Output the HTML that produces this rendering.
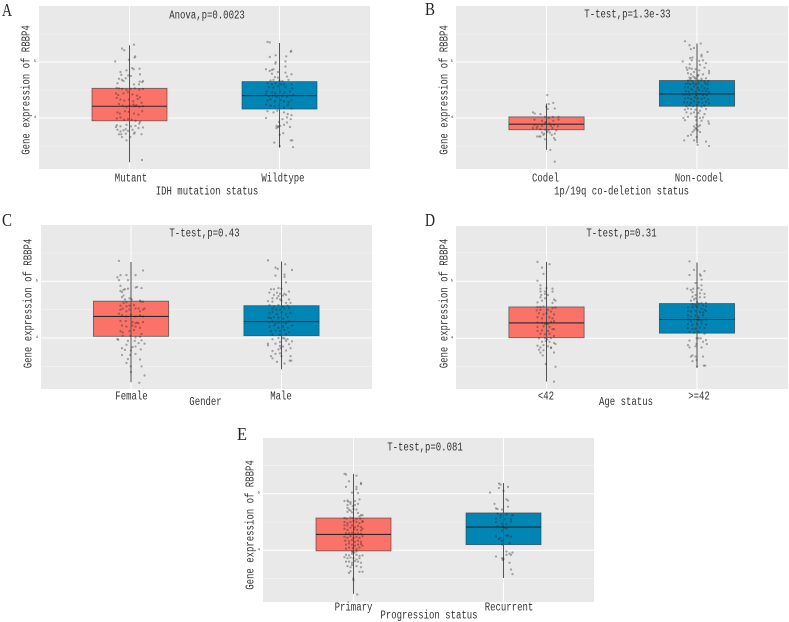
<!DOCTYPE html>
<html>
<head>
<meta charset="utf-8">
<title>RBBP4 expression box plots</title>
<style>
html,body{margin:0;padding:0;background:#fff;}
svg{display:block;filter:blur(0.3px);}
text{font-family:"Liberation Mono","Noto Serif CJK SC",monospace;fill:#333;}
.letter{font-family:"Liberation Serif","Noto Serif CJK SC",serif;fill:#222;}
</style>
</head>
<body>
<svg id="figure" width="789" height="622" viewBox="0 0 789 622" xmlns="http://www.w3.org/2000/svg"></svg>
<script>
// Shared value axis
const yTickValues = [4, 5];
const yTickLabels = ["4", "5"];
const yMinorValues = [3.5, 4.5, 5.5];
const yAxisLabel = "Gene expression of RBBP4";

// Panel text
const panelLetters = ["A", "B", "C", "D", "E"];
const panelTitles = ["Anova,p=0.0023", "T-test,p=1.3e-33", "T-test,p=0.43", "T-test,p=0.31", "T-test,p=0.081"];
const panelXLabels = ["IDH mutation status", "1p/19q co-deletion status", "Gender", "Age status", "Progression status"];

// Categories
const categoriesA = ["Mutant", "Wildtype"];
const categoriesB = ["Codel", "Non-codel"];
const categoriesC = ["Female", "Male"];
const categoriesD = ["<42", ">=42"];
const categoriesE = ["Primary", "Recurrent"];

// Box statistics: low whisker, q1, median, q3, high whisker
const statsA = [[3.21, 3.95, 4.21, 4.53, 5.30], [3.47, 4.16, 4.40, 4.65, 5.34]];
const statsB = [[3.43, 3.79, 3.89, 4.02, 4.26], [3.55, 4.21, 4.43, 4.67, 5.33]];
const statsC = [[3.22, 4.03, 4.38, 4.65, 5.34], [3.45, 4.04, 4.29, 4.57, 5.35]];
const statsD = [[3.24, 4.01, 4.27, 4.55, 5.34], [3.49, 4.09, 4.33, 4.61, 5.33]];
const statsE = [[3.23, 3.99, 4.28, 4.57, 5.35], [3.51, 4.10, 4.41, 4.66, 5.19]];

// Jittered samples as flat pairs: jitter (hundredths of a category), value
const pointsA1 = [3,5.31,-3.5,5.21,-5,5.24,3.8,5.10,3.4,5.08,-.4,5.04,-9.5,5.01,1.8,4.89,-6,4.82,-2,4.85,6.7,4.88,2.8,4.87,-5.5,4.77,7,4.78,-.8,4.76,1,4.75,-7,4.70,-5,4.68,-4,4.66,-2.5,4.71,8.5,4.64,6.3,4.60,9,4.66,-8,4.62,6.8,4.65,3,4.60,-8.5,4.54,-7,4.53,-5,4.52,-2,4.50,.8,4.52,3.5,4.53,6.5,4.51,9,4.52,-9,4.44,-7.5,4.41,-4,4.44,-1,4.46,2,4.42,5,4.40,7,4.37,-8.5,4.36,-6,4.33,-3.5,4.31,-.5,4.33,2.5,4.30,5.5,4.34,8,4.27,-7,4.25,-4.5,4.22,-2,4.20,0,4.22,2.6,4.24,3.5,4.21,4.6,4.23,6.5,4.20,9,4.21,-8,4.10,-6.5,4.08,-3,4.12,-.5,4.11,3,4.08,6,4.06,8.5,4.12,-8.5,3.99,-6,4.01,-3.5,3.97,-1,3.98,1.5,3.97,4,3.95,7,3.93,-8.5,3.87,-9,3.84,-6,3.85,-2,3.88,1,3.85,4,3.86,6.5,3.90,9,3.83,-8,3.79,-6,3.76,-4,3.78,-2.5,3.80,-1,3.77,2,3.79,3.5,3.74,6,3.82,-7,3.71,-5.5,3.71,-2.5,3.72,.6,3.66,8,3.71,-5,3.66,3,3.72,-2,3.60,8.3,3.25];
const pointsA2 = [-8,5.36,-6.5,5.35,7.5,5.18,7.8,5.20,-2.5,5.12,-6.5,5.09,4.5,5.10,-2.5,5.00,4,5.01,-2.8,4.97,-9,4.87,-5,4.86,-6.5,4.84,-4,4.87,4,4.92,-1,4.82,-5,4.79,4,4.81,8,4.78,5,4.74,-3,4.73,-1,4.72,-4,4.68,-6,4.67,0,4.67,2,4.66,6,4.68,-8,4.62,-5,4.60,-2.5,4.62,1,4.60,3,4.60,8,4.60,-7,4.55,-4,4.54,-1,4.57,4,4.55,8.5,4.53,-8.5,4.47,-5,4.46,-3,4.44,.5,4.47,3.5,4.46,7,4.47,-9,4.42,-7,4.39,-4.5,4.40,-2,4.38,2,4.40,5,4.38,9,4.41,-8,4.31,-6,4.33,-3,4.30,1,4.32,3,4.30,6,4.28,8,4.32,-9,4.24,-6,4.22,-3.5,4.21,-.5,4.23,3,4.19,5.5,4.23,8,4.17,-8,4.12,-4,4.10,-1.5,4.13,3,4.10,5.5,4.07,8,4.05,-9,4.00,2,3.98,5,4.01,7.5,3.98,-.3,3.93,3,3.88,5,3.92,-2,3.86,-.5,3.85,.5,3.86,-1,3.84,-2,3.82,7,3.84,2.5,3.73,.2,3.70,-3.5,3.56,.2,3.50,7.5,3.60,8.5,3.60,9,3.48];
const pointsB1 = [.5,4.41,1.5,4.25,4.5,4.27,-.2,4.20,-9,4.10,-7.8,4.08,.9,4.16,5.5,4.17,-4,4.07,-1,4.02,1.5,4.00,8,4.02,4.2,4.02,-8,3.97,-3,3.95,-.3,3.93,-1,3.91,2,3.90,4.5,3.95,8,3.97,-8,3.88,-6,3.85,-3,3.86,3,3.86,5,3.88,7.5,3.85,-9,3.82,-6.5,3.82,-4,3.80,-.8,3.79,1.2,3.78,4,3.82,6.5,3.78,-3,3.74,-1.5,3.72,.5,3.75,2.2,3.74,3.5,3.70,-4,3.67,-2,3.70,5.5,3.72,-6.2,3.67,-4.8,3.67,5,3.64,5.8,3.61,-1,3.62,2.5,3.43,5.5,3.22];
const pointsB2 = [-8,5.37,-5,5.30,-4,5.23,2.5,5.33,-2,5.25,7,5.18,3,5.13,-3,5.08,3,5.10,-4.5,5.07,-9.5,5.01,-3.5,5.03,1.5,5.02,4,5.03,6,4.98,2,4.95,-4.8,4.96,-7,4.90,-6.5,4.86,-5,4.89,-3.5,4.88,-1,4.87,1.5,4.85,5,4.90,8,4.84,-6,4.80,-4,4.78,-2,4.82,1,4.77,4,4.78,8,4.80,-5,4.72,-4,4.71,-2.5,4.74,-1.5,4.72,.5,4.75,3,4.70,6,4.71,-6,4.67,-4.5,4.68,-3,4.66,-1,4.70,1,4.67,3,4.67,5,4.66,7.5,4.66,-7.5,4.61,-6,4.62,-4.5,4.60,-2.5,4.62,-1,4.60,1,4.62,3,4.58,5.5,4.62,7,4.60,-8,4.55,-6,4.55,-4,4.52,-2,4.56,.5,4.54,3,4.55,5,4.53,7,4.52,-7.5,4.48,-5.5,4.47,-3,4.50,-1,4.47,1.5,4.50,3.5,4.48,6,4.48,8,4.46,-9,4.42,-7,4.42,-5,4.41,-3,4.43,-.5,4.41,2,4.43,4,4.41,6.5,4.41,-8,4.35,-6,4.36,-4,4.34,-1.5,4.37,.5,4.35,3,4.34,5,4.36,7.5,4.33,-8.5,4.28,-6.5,4.28,-4,4.27,-2,4.30,1,4.28,3.5,4.27,6,4.29,8,4.26,-7,4.21,-5,4.23,-2.5,4.21,0,4.23,3,4.20,5,4.22,-8,4.15,-6,4.17,-4,4.16,-1,4.15,2,4.13,6,4.16,-7,4.10,-4,4.08,-2,4.10,1,4.09,5,4.07,-9,4.00,-6,4.02,-1,4.02,2,4.00,4,4.01,-8,3.96,-.5,3.96,3,3.95,7.5,3.94,-.3,3.88,8,3.90,-2,3.85,-1,3.82,1,3.85,2,3.87,-.5,3.80,-2,3.78,.5,3.78,-3,3.75,2,3.75,-6,3.68,-4,3.70,-.2,3.66,-8.5,3.60,-2,3.60,6,3.58,.4,3.52,8,3.50];
const pointsC1 = [-8,5.36,8,5.19,-7,5.11,-3,5.11,3,5.11,-8,5.02,-2,5.02,-9,5.07,-7,4.92,-5,4.85,-4,4.86,-2,4.87,3,4.89,4,4.90,7,4.88,-7,4.83,-6,4.81,-5,4.75,-6,4.72,-4,4.68,-1,4.70,-3,4.63,-5,4.62,.5,4.68,6,4.66,6.5,4.64,8,4.64,-7,4.57,-3,4.56,-1,4.57,2,4.58,5,4.52,-7,4.50,-5.5,4.52,-3,4.47,-1,4.50,3,4.52,6,4.47,8,4.50,9,4.52,-8,4.43,-6,4.40,-3,4.38,0,4.41,3,4.38,6,4.40,8,4.38,-7,4.30,-3.5,4.30,1,4.28,3,4.26,4,4.27,5,4.26,8,4.28,-6,4.22,-3,4.20,1,4.22,3,4.20,6,4.18,-7,4.12,-5.5,4.10,-1,4.12,2,4.14,7,4.07,-5.5,4.04,-.4,4.04,3,4.01,6,4.02,-9,3.98,-8.5,3.97,-2,3.95,2.5,3.95,7,3.96,9,3.90,-3,3.88,3,3.85,5,3.91,1,3.84,-6,3.82,-4,3.79,0,3.78,6.5,3.80,-6,3.70,-.5,3.70,3,3.72,-2,3.63,6,3.62,-3,3.56,-.2,3.50,7,3.50,0,3.40,9,3.34,5.5,3.21];
const pointsC2 = [-9,5.37,-4,5.24,-2.5,5.22,2.5,5.30,7,5.20,2,5.12,2,5.08,-4,5.10,3,4.98,-2,4.88,-7,4.86,-5,4.86,0,4.87,-8,4.80,-3,4.80,-1,4.78,2,4.78,5,4.82,-5,4.76,-2,4.74,1,4.75,3,4.76,-6,4.70,-3,4.70,-1,4.68,5,4.68,-9,4.65,-6,4.64,0,4.66,3,4.62,6,4.62,-8,4.58,-5,4.56,-2,4.58,1,4.55,4,4.57,-6,4.52,-3.5,4.50,-1,4.50,2,4.52,5,4.53,-8,4.44,-6,4.46,-3,4.42,0,4.45,3,4.42,6,4.44,-8.5,4.36,-7,4.35,-5,4.37,-2,4.36,1,4.34,4,4.37,-8,4.28,-6,4.29,-4,4.25,-2,4.27,1,4.28,3,4.26,5,4.29,-8,4.20,-5,4.22,-2,4.18,1,4.20,4,4.18,7,4.22,-7,4.12,-4,4.13,-1,4.12,2,4.14,5,4.10,-6,4.06,-1,4.06,3,4.07,-6,3.98,-2,4.00,1,4.00,2,3.99,4,3.98,-1,3.93,3,3.95,7,3.94,-9,3.90,-9,3.87,-4,3.90,-1,3.86,5,3.89,-.5,3.82,1,3.85,-6,3.77,-2,3.80,3,3.78,-4,3.72,-1,3.73,6,3.82,-7,3.68,6,3.68,-6,3.64,5.5,3.60,6.5,3.60,-3,3.58,0,3.68,2,3.55];
const pointsD1 = [-6,5.34,2,5.30,-3,5.24,-2,5.13,-6,5.01,-4,4.93,-4,4.87,0,4.88,-4,4.82,-1,4.82,4,4.87,-3.5,4.76,-1,4.78,1,4.76,4,4.82,-4,4.72,-1,4.70,5,4.68,6,4.66,-6,4.63,-3,4.66,4,4.62,-6,4.55,-4,4.55,-2,4.56,4,4.53,6,4.54,-6.5,4.49,-4,4.50,1,4.50,3,4.47,-5,4.44,-2,4.42,0,4.44,5,4.42,-6,4.37,-3,4.35,2,4.37,4,4.35,-6,4.28,-3,4.27,-1,4.25,0,4.27,1,4.25,3,4.29,5,4.30,-6,4.20,-2,4.21,2,4.20,4,4.16,-6,4.13,-3,4.14,1,4.13,5,4.16,-4,4.08,-1,4.07,2,4.08,5,4.04,-5,4.00,-1,4.00,.5,3.98,3,4.00,-3,3.94,-.5,3.95,2,3.94,5,3.92,-6,3.87,-4,3.84,-2,3.88,1,3.86,3,3.84,6,3.90,-5,3.80,-2,3.79,3,3.83,-4,3.75,-2.5,3.70,5,3.75,-.5,3.55,6,3.50,5,3.24];
const pointsD2 = [-5,5.35,-2,5.20,5,5.18,-5,5.11,2,5.12,2.5,5.10,3,5.03,-1,4.97,3,4.93,1,4.88,-6.5,4.87,-4,4.85,-2.5,4.87,3,4.85,-3,4.81,-1,4.76,2,4.79,5,4.78,-3,4.73,-1,4.70,2,4.72,5,4.72,-4,4.66,-2,4.68,0,4.64,3,4.62,6,4.62,-3,4.60,-1,4.58,1,4.61,4,4.58,6,4.56,-6,4.54,-3,4.55,0,4.55,3,4.52,5,4.50,-6,4.48,-4,4.47,-1,4.48,2,4.46,4,4.45,6,4.48,-6,4.40,-4,4.38,-1,4.40,1,4.37,4,4.40,-6,4.33,-4,4.30,-2,4.33,1,4.32,3,4.31,6,4.33,-6,4.25,-3,4.24,0,4.25,3,4.26,6,4.24,-6,4.18,-3,4.17,-1,4.17,2,4.19,5,4.18,-5,4.11,-2,4.10,1,4.11,5,4.08,-.3,4.00,1,4.00,2.5,4.00,6,3.97,-5,3.96,-.4,3.90,4,3.94,6.5,3.90,-6,3.88,-5,3.84,-1,3.86,3,3.84,-3,3.70,4,3.68,-4,3.68,-1,3.68,4.5,3.52,5.5,3.52,-.3,3.62,0,3.50,-3,3.60];
const pointsE1 = [-6,5.35,-5,5.34,2,5.32,-3,5.22,5,5.19,5,5.17,-5,5.12,2,5.12,2,5.08,-1,5.02,3,5.01,4,4.90,-6,4.87,-4,4.88,-3.5,4.86,-2,4.85,1,4.87,-4,4.80,-2,4.82,-.5,4.78,1,4.80,3,4.82,-4,4.75,-3,4.72,-2,4.70,0,4.73,2,4.72,-4,4.68,-1,4.67,3,4.66,5,4.62,4,4.60,6,4.62,-6,4.57,-4.5,4.56,-2,4.58,-.5,4.57,2,4.55,4.5,4.56,6,4.52,-6,4.50,-4,4.48,-2,4.50,0,4.52,2,4.50,4,4.48,6,4.50,-6,4.44,-4,4.44,-1,4.44,1,4.41,3,4.43,5,4.41,-6,4.38,-4,4.36,-2,4.40,.5,4.37,2.5,4.36,5,4.35,6,4.38,-5,4.30,-3,4.30,-1,4.31,1,4.29,3,4.30,5,4.29,-6,4.24,-4,4.22,-2,4.25,0,4.22,2,4.24,4,4.22,6,4.25,-5.5,4.17,-3,4.16,-1,4.18,1,4.15,3,4.17,5,4.15,-5,4.10,-3,4.12,-1,4.10,1,4.08,3,4.10,5,4.11,6,4.08,-5,4.03,-3,4.05,-.5,4.04,2,4.02,4,4.05,-1,3.98,-.5,3.97,.5,3.96,2,3.98,-5,3.92,-3,3.91,-1,3.94,2,3.92,4,3.90,6,3.91,-6,3.88,-4,3.86,-2,3.87,0,3.86,2,3.84,4,3.86,-5,3.80,-3,3.80,-1,3.78,1,3.81,3,3.80,5,3.78,-4,3.72,-1,3.74,2,3.72,5,3.70,-2,3.70,-3,3.60,-2,3.63,4,3.62,6,3.62,-.2,3.50,0,3.47,2.5,3.22];
const pointsE2 = [-3,5.18,-2,5.16,-3,5.10,3,5.12,0,5.05,-9,5.02,2,4.90,3,4.88,-6,4.82,3,4.77,-5,4.74,-4,4.73,-1,4.72,-4,4.65,-2,4.62,2,4.64,6,4.62,-5,4.56,-2,4.58,1,4.55,5,4.55,-5,4.50,-1,4.47,2,4.46,5,4.51,-4,4.42,-.5,4.42,.5,4.40,2,4.38,-1,4.35,-5,4.25,-2,4.22,2,4.26,3,4.26,5,4.24,-3,4.20,-1,4.17,4,4.13,-1,4.10,2,3.98,4,3.94,-5,3.89,-1,3.86,0,3.85,-.5,3.83,2,3.92,5,3.92,6,3.96,4,3.78,5,3.66,6,3.58];

const panelData = [
  [categoriesA, statsA, pointsA1, pointsA2],
  [categoriesB, statsB, pointsB1, pointsB2],
  [categoriesC, statsC, pointsC1, pointsC2],
  [categoriesD, statsD, pointsD1, pointsD2],
  [categoriesE, statsE, pointsE1, pointsE2]
];

const boxColors = ["#fb7268", "#0085b5"];
const CHAR_W = 5.4;
const NS = "http://www.w3.org/2000/svg";
const root = document.getElementById("figure");

// Layout only: plot rectangle, y position of value 4 / value 5, label anchors
const layouts = [
  {l:39,r:370,t:6,b:169,y4:118,y5:62,c1:129.5,c2:279.5,letter:[2,16],title:[207,16],tick:[[131,179],[283,179]],xt:[207,192],yt:[27,90]},
  {l:456,r:788,t:6,b:169,y4:118,y5:62,c1:546.5,c2:697,letter:[425,15],title:[627.5,15],tick:[[545.5,179],[699,179]],xt:[621.5,192],yt:[445,90]},
  {l:41,r:372,t:225,b:389,y4:338,y5:281.3,c1:131,c2:281.5,letter:[2,226],title:[204.5,234],tick:[[131.5,397],[281,397]],xt:[205.5,402.5],yt:[29,303.5]},
  {l:456,r:788,t:226,b:389,y4:338.3,y5:281.3,c1:546.5,c2:697,letter:[425,226],title:[621.5,234],tick:[[546,397],[699,397]],xt:[626,402.5],yt:[445,303.5]},
  {l:263,r:594,t:438,b:602,y4:550.3,y5:493.7,c1:353.5,c2:503.5,letter:[237,440],title:[425,448],tick:[[353.5,608],[509,608]],xt:[429,616],yt:[251,525]}
];

function el(tag, attrs, parent) {
  const node = document.createElementNS(NS, tag);
  for (const k in attrs) node.setAttribute(k, attrs[k]);
  parent.appendChild(node);
  return node;
}

function label(text, x, y, parent, rotate) {
  const t = el("text", {x: x, y: y, "font-size": 11.5, "text-anchor": "middle", "dominant-baseline": "central",
    textLength: text.length * CHAR_W, lengthAdjust: "spacingAndGlyphs"}, parent);
  if (rotate) t.setAttribute("transform", "rotate(-90 " + x + " " + y + ")");
  t.textContent = text;
  return t;
}

layouts.forEach(function (L, p) {
  const cats = panelData[p][0], stats = panelData[p][1];
  const unit = L.y4 - L.y5;
  const yScale = function (v) { return L.y4 - (v - yTickValues[0]) * unit; };
  const step = L.c2 - L.c1;
  const xScale = function (i, j) { return (i === 0 ? L.c1 : L.c2) + (j || 0) / 100 * step; };

  const g = el("g", {}, root);
  
  

  const letter = el("text", {x: L.letter[0], y: L.letter[1], "font-size": 18, "class": "letter", textLength: 10, lengthAdjust: "spacingAndGlyphs"}, g);
  
  
  letter.textContent = panelLetters[p];

  const bg = el("rect", {x: L.l, y: L.t, width: L.r - L.l, height: L.b - L.t, fill: "#e9e9e9"}, g);
  
  

  yMinorValues.forEach(function (v) {
    const y = yScale(v);
    if (y < L.t || y > L.b) return;
    const line = el("line", {x1: L.l, x2: L.r, y1: y, y2: y, stroke: "#f2f2f2", "stroke-width": 0.7}, g);
    
    
  });
  yTickValues.forEach(function (v, i) {
    const y = yScale(v);
    const line = el("line", {x1: L.l, x2: L.r, y1: y, y2: y, stroke: "#ffffff", "stroke-width": 1}, g);
    
    
    const t = el("text", {x: L.l - 3, y: y, "font-size": 4, "text-anchor": "end", "dominant-baseline": "central"}, g);
    
    
    t.textContent = yTickLabels[i];
  });

  cats.forEach(function (cat, i) {
    const cx = xScale(i, 0);
    const grid = el("line", {x1: cx, x2: cx, y1: L.t, y2: L.b, stroke: "#ffffff", "stroke-width": 1}, g);
    
    

    const s = stats[i];
    const box = el("rect", {x: cx - step / 4, y: yScale(s[3]), width: step / 2, height: yScale(s[1]) - yScale(s[3]),
      fill: boxColors[i], stroke: "#3c3c3c", "stroke-opacity": 0.75, "stroke-width": 0.8}, g);
    
    

    const whisker = el("line", {x1: cx, x2: cx, y1: yScale(s[4]), y2: yScale(s[0]), stroke: "#555", "stroke-width": 1}, g);
    
    

    const med = el("line", {x1: cx - step / 4, x2: cx + step / 4, y1: yScale(s[2]), y2: yScale(s[2]), stroke: "#2a2a2a", "stroke-width": 1.1}, g);
    
    

    const pts = panelData[p][2 + i];
    for (let k = 0; k < pts.length; k += 2) {
      const dot = el("circle", {cx: xScale(i, pts[k]), cy: yScale(pts[k + 1]), r: 1.15, fill: "#222", "fill-opacity": 0.36}, g);
      
      
    }

    const tick = label(cat, L.tick[i][0], L.tick[i][1], g);
    
    
  });

  const title = label(panelTitles[p], L.title[0], L.title[1], g);
  
  

  const xt = label(panelXLabels[p], L.xt[0], L.xt[1], g);
  
  

  const yt = label(yAxisLabel, L.yt[0], L.yt[1], g, true);
  
  
});
</script>
</body>
</html>
